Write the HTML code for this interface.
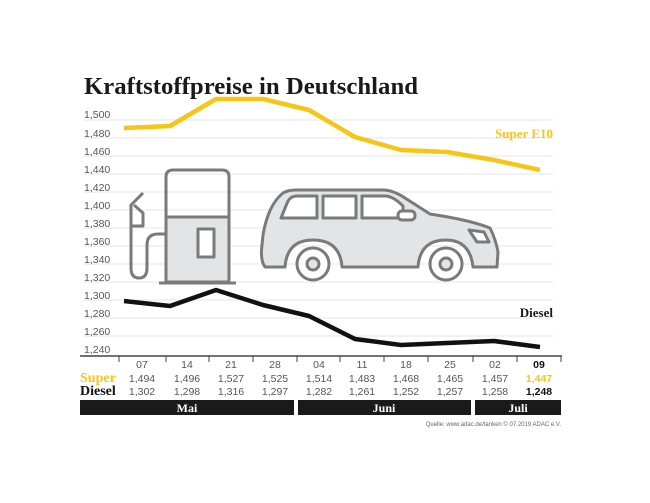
<!DOCTYPE html>
<html><head><meta charset="utf-8"><style>
html,body{margin:0;padding:0;background:#fff;}
svg{display:block;}
</style></head><body>
<svg width="650" height="503" viewBox="0 0 650 503" xmlns="http://www.w3.org/2000/svg" font-family="Liberation Sans, sans-serif">
<rect width="650" height="503" fill="#fff"/>
<text x="84" y="94" font-family="Liberation Serif, serif" font-weight="bold" font-size="24" fill="#1a1a1a" textLength="334" lengthAdjust="spacingAndGlyphs">Kraftstoffpreise in Deutschland</text>
<g stroke="#e6e6e6" stroke-width="1">
<line x1="84" x2="553" y1="120" y2="120"/><line x1="84" x2="553" y1="138" y2="138"/><line x1="84" x2="553" y1="156" y2="156"/><line x1="84" x2="553" y1="174" y2="174"/><line x1="84" x2="553" y1="192" y2="192"/><line x1="84" x2="553" y1="210" y2="210"/><line x1="84" x2="553" y1="228" y2="228"/><line x1="84" x2="553" y1="246" y2="246"/><line x1="84" x2="553" y1="264" y2="264"/><line x1="84" x2="553" y1="282" y2="282"/><line x1="84" x2="553" y1="300" y2="300"/><line x1="84" x2="553" y1="318" y2="318"/><line x1="84" x2="553" y1="336" y2="336"/>
</g>
<g font-size="10.5" fill="#555">
<text x="84" y="118">1,500</text><text x="84" y="137">1,480</text><text x="84" y="155">1,460</text><text x="84" y="173">1,440</text><text x="84" y="191">1,420</text><text x="84" y="209">1,400</text><text x="84" y="227">1,380</text><text x="84" y="245">1,360</text><text x="84" y="263">1,340</text><text x="84" y="281">1,320</text><text x="84" y="299">1,300</text><text x="84" y="317">1,280</text><text x="84" y="335">1,260</text><text x="84" y="353">1,240</text>
</g>
<!-- pump -->
<g stroke="#7a7a7a" stroke-width="3" fill="none" stroke-linejoin="round">
<path d="M166,217 L229,217 L229,282 L166,282 Z" fill="#e3e4e6"/>
<path d="M166,217 L166,177 Q166,170 173,170 L222,170 Q229,170 229,177 L229,217"/>
<rect x="198" y="229" width="16" height="28" fill="#fff"/>
<line x1="159" y1="283" x2="236" y2="283"/>
<path d="M143,193 L131,205 L131,226 L143,226 L143,213 L134,205"/>
<path d="M131,226 L131,268 Q131,278 139,278 Q147,278 147,268 L147,245 Q147,234 158,234 L166,234"/>
</g>
<!-- car -->
<g stroke="#7a7a7a" stroke-width="3" stroke-linejoin="round">
<path d="M262,245 L263,235 Q268,205 283,193 Q288,190 296,190 L383,190 Q393,190 405,198 L430,214 Q470,220 490,228 Q496,240 498,252 L497,267 L473,267 Q470,240 446,240 Q420,240 418,267 L342,267 Q340,240 313,240 Q287,240 285,267 L265,267 Q260,260 262,245 Z" fill="#e3e4e6"/>
<circle cx="313" cy="264" r="16" fill="#fff"/><circle cx="313" cy="264" r="6" fill="#e3e4e6"/>
<circle cx="446" cy="264" r="16" fill="#fff"/><circle cx="446" cy="264" r="6" fill="#e3e4e6"/>
<path d="M281,218 L288,201 Q291,196 297,196 L317,196 L317,218 Z" fill="#fff"/>
<rect x="323" y="196" width="33" height="22" fill="#fff"/>
<path d="M362,196 L385,196 Q393,196 403,206 L403,218 L362,218 Z" fill="#fff"/>
<rect x="398" y="211" width="17" height="9" rx="4" fill="#fff"/>
<path d="M469,230 L484,232 L489,242 L477,242 Z" fill="#fff"/>
</g>
<!-- lines -->
<polyline fill="none" stroke="#f5c518" stroke-width="4.5" stroke-linejoin="round" points="124,128 170,126 216,99 263,99 309,110 355,137 401,150 447,152 494,160 540,170"/>
<polyline fill="none" stroke="#111" stroke-width="4.5" stroke-linejoin="round" points="124,301 170,306 216,290 263,305 309,316 355,339 401,345 447,343 494,341 540,347"/>
<text x="553" y="138" text-anchor="end" font-family="Liberation Serif, serif" font-weight="bold" font-size="13" fill="#f5c518">Super E10</text>
<text x="553" y="317" text-anchor="end" font-family="Liberation Serif, serif" font-weight="bold" font-size="13" fill="#1a1a1a">Diesel</text>
<!-- axis -->
<line x1="80" x2="562" y1="356" y2="356" stroke="#444" stroke-width="1.5"/>
<g stroke="#444" stroke-width="1">
<line x1="119" x2="119" y1="356" y2="362"/><line x1="166" x2="166" y1="356" y2="362"/><line x1="209" x2="209" y1="356" y2="362"/><line x1="253" x2="253" y1="356" y2="362"/><line x1="297" x2="297" y1="356" y2="362"/><line x1="340" x2="340" y1="356" y2="362"/><line x1="384" x2="384" y1="356" y2="362"/><line x1="428" x2="428" y1="356" y2="362"/><line x1="473" x2="473" y1="356" y2="362"/><line x1="517" x2="517" y1="356" y2="362"/><line x1="561" x2="561" y1="356" y2="362"/>
</g>
<g font-size="10.5" fill="#555" text-anchor="middle">
<text x="142" y="368">07</text><text x="187" y="368">14</text><text x="231" y="368">21</text><text x="275" y="368">28</text><text x="319" y="368">04</text><text x="362" y="368">11</text><text x="406" y="368">18</text><text x="450" y="368">25</text><text x="495" y="368">02</text><text x="539" y="368" font-weight="bold" fill="#111">09</text>
<text x="142" y="382">1,494</text><text x="187" y="382">1,496</text><text x="231" y="382">1,527</text><text x="275" y="382">1,525</text><text x="319" y="382">1,514</text><text x="362" y="382">1,483</text><text x="406" y="382">1,468</text><text x="450" y="382">1,465</text><text x="495" y="382">1,457</text><text x="539" y="382" font-weight="bold" fill="#f5c518">1,447</text>
<text x="142" y="395">1,302</text><text x="187" y="395">1,298</text><text x="231" y="395">1,316</text><text x="275" y="395">1,297</text><text x="319" y="395">1,282</text><text x="362" y="395">1,261</text><text x="406" y="395">1,252</text><text x="450" y="395">1,257</text><text x="495" y="395">1,258</text><text x="539" y="395" font-weight="bold" fill="#111">1,248</text>
</g>
<text x="80" y="382" font-family="Liberation Serif, serif" font-weight="bold" font-size="14" fill="#f5c518">Super</text>
<text x="80" y="395" font-family="Liberation Serif, serif" font-weight="bold" font-size="14" fill="#111">Diesel</text>
<rect x="80" y="400" width="214" height="15" fill="#1a1a1a"/>
<rect x="298" y="400" width="173" height="15" fill="#1a1a1a"/>
<rect x="475" y="400" width="86" height="15" fill="#1a1a1a"/>
<g font-family="Liberation Serif, serif" font-weight="bold" font-size="12" fill="#fff" text-anchor="middle">
<text x="187" y="412">Mai</text><text x="384" y="412">Juni</text><text x="518" y="412">Juli</text>
</g>
<text x="561" y="426" text-anchor="end" font-size="6" fill="#666">Quelle: www.adac.de/tanken   © 07.2019  ADAC e.V.</text>
</svg>
</body></html>
